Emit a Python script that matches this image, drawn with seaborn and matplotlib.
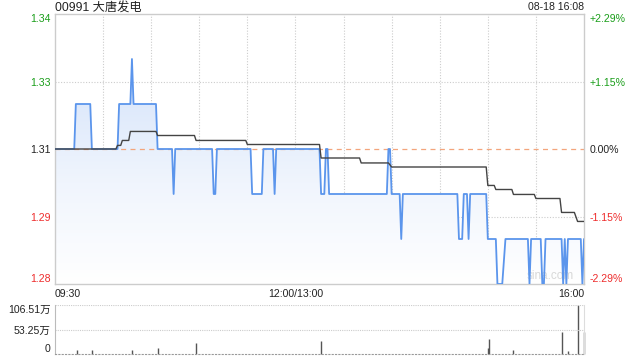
import numpy as np
import matplotlib
matplotlib.use("Agg")
import matplotlib.pyplot as plt
import seaborn as sns
from matplotlib.colors import LinearSegmentedColormap

# ---------------- data ----------------
title = "00991 大唐发电"
stamp = "08-18 16:08"
prev_close = 1.31

# minute index (0 = 09:30, 150 = 12:00/13:00, 330 = 16:00) and price vertices
price_min = [0, 12, 13, 22, 23, 39, 40, 47, 48, 49, 63, 64, 73, 74, 75, 98, 99, 100, 101,
             122, 123, 129, 130, 136, 137, 138, 165, 166, 168, 169, 170, 171, 207, 208, 209,
             210, 215, 216, 217, 251, 252, 254, 255, 257, 258, 259, 269, 270, 275, 276, 279,
             281, 295, 296, 297, 303, 304, 305, 306, 316, 317, 318, 319, 320, 328, 329, 330]
price_val = [1.31, 1.31, 1.32, 1.32, 1.31, 1.31, 1.32, 1.32, 1.33, 1.32, 1.32, 1.31, 1.31,
             1.30, 1.31, 1.31, 1.30, 1.30, 1.31, 1.31, 1.30, 1.30, 1.31, 1.31, 1.30, 1.31,
             1.31, 1.30, 1.30, 1.31, 1.31, 1.30, 1.30, 1.31, 1.31, 1.30, 1.30, 1.29, 1.30,
             1.30, 1.29, 1.29, 1.30, 1.30, 1.29, 1.30, 1.30, 1.29, 1.29, 1.28, 1.28, 1.29,
             1.29, 1.28, 1.29, 1.29, 1.28, 1.28, 1.29, 1.29, 1.28, 1.29, 1.28, 1.29, 1.29,
             1.28, 1.29]

avg_min = [0, 38, 39, 41, 42, 46, 47, 63, 64, 87, 88, 119, 120, 165, 166, 190, 191, 208, 210,
           269, 270, 274, 275, 285, 286, 299, 300, 315, 316, 324, 326, 330]
avg_val = [1.31, 1.31, 1.3108, 1.3108, 1.3119, 1.3119, 1.3139, 1.3139, 1.3130, 1.3130,
           1.3119, 1.3119, 1.3110, 1.3110, 1.3080, 1.3080, 1.3069, 1.3069, 1.3060, 1.3060,
           1.3019, 1.3019, 1.3010, 1.3010, 1.2999, 1.2999, 1.2990, 1.2990, 1.2959, 1.2959,
           1.2939, 1.2939]

vol_min = [14, 23, 48, 64, 88, 166, 270, 271, 286, 316, 320, 326, 330]
vol_val = [7.9, 8.8, 8.8, 12.3, 24.0, 28.0, 13.0, 32.0, 8.0, 47.0, 5.5, 106.51, 48.0]  # 万

left_ticks = [1.28, 1.295, 1.31, 1.325, 1.34]
left_labels = ["1.28", "1.29", "1.31", "1.33", "1.34"]
right_labels = ["-2.29%", "-1.15%", "0.00%", "+1.15%", "+2.29%"]
x_ticks = [0, 150, 330]
x_labels = ["09:30", "12:00/13:00", "16:00"]
vol_ticks = [0, 53.25, 106.51]
vol_labels = ["0", "53.25万", "106.51万"]

# ---------------- style ----------------
sns.set_style("white")
plt.rcParams["font.family"] = ["Liberation Sans", "Noto Sans CJK SC", "DejaVu Sans"]

GREEN = "#1a9e1a"
RED = "#ee2c2c"
GRID = "#cccccc"
BLUE = "#5b95ec"
label_colors = [RED, RED, "#222222", GREEN, GREEN]

fig = plt.figure(figsize=(6.4, 3.6), dpi=100)
ax = fig.add_axes([55/640, 1-284/360, 529/640, 270/360])
axv = fig.add_axes([55/640, 1-354/360, 529/640, 49/360])

# gradient fill under price
poly = ax.fill_between(price_min, price_val, 1.28, color="none", lw=0)
cmap = LinearSegmentedColormap.from_list("g", ["#ffffff", "#f0f5fd", "#d9e6fb"])
grad = np.linspace(1, 0, 256).reshape(-1, 1)
im = ax.imshow(grad, extent=[0, 330, 1.28, 1.325], aspect="auto", cmap=cmap,
               origin="upper", zorder=1)
im.set_clip_path(poly.get_paths()[0], transform=ax.transData)

# grid
for gx in range(30, 330, 30):
    ax.axvline(gx, color=GRID, lw=0.8, ls=(0, (1, 1.5)), zorder=0.5)
for gy in [1.295, 1.325]:
    ax.axhline(gy, color=GRID, lw=0.8, ls=(0, (1, 1.5)), zorder=0.5)
ax.axhline(prev_close, color="#f3a57c", lw=0.9, ls=(0, (4, 3.5)), zorder=1.5)

sns.lineplot(x=price_min, y=price_val, ax=ax, color=BLUE, lw=1.3, zorder=3)
sns.lineplot(x=avg_min, y=avg_val, ax=ax, color="#444444", lw=1.0, zorder=4)

ax.set_xlim(0, 330)
ax.set_ylim(1.28, 1.34)
ax.set_yticks(left_ticks)
ax.set_yticklabels(left_labels)
ax.get_yticklabels()[0].set_va("bottom")
ax.get_yticklabels()[-1].set_va("top")
ax.set_xticks(x_ticks)
ax.set_xticklabels(x_labels)
xl = ax.get_xticklabels()
xl[0].set_ha("left")
xl[-1].set_ha("right")
ax.tick_params(axis="both", length=0, labelsize=7.6, colors="#222222")
ax.tick_params(axis="y", pad=3)
ax.tick_params(axis="x", pad=3.5)
for t, c in zip(ax.get_yticklabels(), label_colors):
    t.set_color(c)
for s in ax.spines.values():
    s.set_color(GRID)
    s.set_linewidth(1.0)

axr = ax.twinx()
axr.set_ylim(1.28, 1.34)
axr.set_yticks(left_ticks)
axr.set_yticklabels(right_labels)
axr.tick_params(axis="y", length=0, labelsize=7.6, pad=4)
for t, c in zip(axr.get_yticklabels(), label_colors):
    t.set_color(c)
axr.get_yticklabels()[0].set_va("bottom")
axr.get_yticklabels()[-1].set_va("top")
for s in axr.spines.values():
    s.set_visible(False)

ax.text(0.98, 0.008, "sina.com", transform=ax.transAxes, ha="right", va="bottom",
        color="#d8d8d8", fontsize=8.5, zorder=2)

# volume panel
axv.vlines(vol_min, 0, vol_val, color="#555555", lw=1.0, clip_on=False)
axv.axhline(53.25, color=GRID, lw=0.8, ls=(0, (1, 1)))
axv.axhline(106.51, color=GRID, lw=0.8, ls=(0, (1, 1)))
axv.set_xlim(0, 330)
axv.set_ylim(0, 106.51)
axv.set_xticks([])
axv.set_yticks(vol_ticks)
axv.set_yticklabels(vol_labels)
axv.get_yticklabels()[0].set_va("bottom")
axv.get_yticklabels()[-1].set_va("top")
axv.tick_params(axis="y", length=0, labelsize=7.6, pad=3, colors="#222222")
axv.spines["top"].set_visible(False)
axv.spines["left"].set_color("#bbbbbb")
axv.spines["right"].set_color("#dddddd")
axv.spines["bottom"].set_color("#999999")
axv.spines["bottom"].set_linestyle((0, (1, 2)))

fig.text(55/640, 1-12/360, title, ha="left", va="baseline", fontsize=8.8, color="#222222")
fig.text(584/640, 1-10.5/360, stamp, ha="right", va="baseline", fontsize=7.6, color="#222222")

fig.savefig("out.png", dpi=100)
